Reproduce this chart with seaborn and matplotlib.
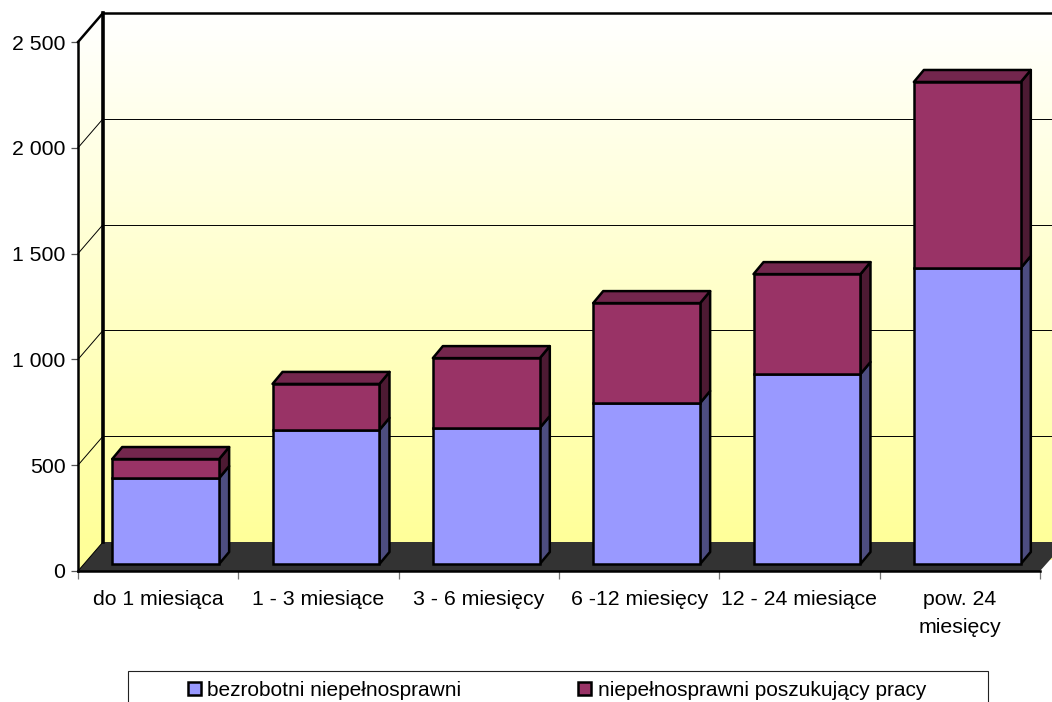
import numpy as np
import pandas as pd
import matplotlib
matplotlib.use("Agg")
import matplotlib.pyplot as plt
import seaborn as sns
from matplotlib.patches import Polygon, Patch, Rectangle
from matplotlib.lines import Line2D
from matplotlib.transforms import Affine2D, IdentityTransform
from matplotlib.colors import LinearSegmentedColormap

categories = ["do 1 miesiąca", "1 - 3 miesiące", "3 - 6 miesięcy", "6 -12 miesięcy",
              "12 - 24 miesiące", "pow. 24\nmiesięcy"]
bezrobotni = [406, 634, 643, 761, 898, 1399]
poszukujacy = [90, 217, 330, 472, 472, 879]
series_names = ["bezrobotni niepełnosprawni", "niepełnosprawni poszukujący pracy"]
y_ticks = [0, 500, 1000, 1500, 2000, 2500]
y_labels = ["0", "500", "1 000", "1 500", "2 000", "2 500"]

W, H = 1052, 702
FONT = 15.3
EDGE = 1.8
sns.set_theme(style="white")
plt.rcParams["font.family"] = ["Liberation Sans", "DejaVu Sans"]

fig = plt.figure(figsize=(W / 100, H / 100), dpi=100, facecolor="white")
ax = fig.add_axes([78 / W, (H - 571) / H, (1040 - 78) / W, (571 - 42) / H])
ax.patch.set_visible(False)

df = pd.DataFrame({"okres": categories, "a": bezrobotni, "b": poszukujacy})
sns.barplot(data=df, x="okres", y="a", color="#9999FF", saturation=1, width=0.667,
            edgecolor="black", linewidth=EDGE, zorder=4, ax=ax)
n_first = len(ax.patches)
sns.barplot(data=df, x="okres", y="b", bottom=df["a"].to_numpy(), color="#993366", saturation=1,
            width=0.667, edgecolor="black", linewidth=EDGE, zorder=4, ax=ax)
ax.set_xlim(-0.5, 5.5)
ax.set_ylim(0, 2500)
ax.set_xlabel("")
ax.set_ylabel("")

def P(px, py):
    """reference pixel (top-left origin) to display coordinates"""
    return (px, H - py)

# shift of the bars from the front plane and their depth, pixels
OX, OY = 7.5, 7
DX, DY = 10, 12
WX, WY = 25, 29
ident = IdentityTransform()
fig.canvas.draw()

# walls
grad = LinearSegmentedColormap.from_list("w", ["#FFFFFF", "#FFFF99"])
inv = ax.transData.inverted()
(x0, y0), (x1, y1) = inv.transform([P(78, 571), P(1052, 13)])
im = ax.imshow(np.clip(np.linspace(0, 1.05, 256), 0, 1).reshape(-1, 1), cmap=grad, aspect="auto",
               extent=(x0, x1, y0, y1), zorder=0, vmin=0, vmax=1)
clip = Polygon([P(78, 571), P(78, 42), P(103, 13), P(1052, 13), P(1052, 560), P(78, 571)],
               transform=ident)
im.set_clip_box(fig.bbox)
im.set_clip_path(clip)
ax.set_xlim(-0.5, 5.5)
ax.set_ylim(0, 2500)

# floor
ax.add_patch(Polygon([P(78, 571), P(103, 542), P(1052, 542), P(1052, 557.5), P(1040, 571)],
                     closed=True, facecolor="#333333", edgecolor="none",
                     transform=ident, clip_on=False, zorder=1.5))

def seg(a, b, lw, z=2, color="black"):
    ax.add_line(Line2D([a[0], b[0]], [a[1], b[1]], color=color, lw=lw, transform=ident,
                       clip_on=False, zorder=z, solid_capstyle="projecting"))

for v in y_ticks:
    fx, fy = ax.transData.transform((-0.5, v))
    lw = EDGE if v == y_ticks[-1] else 0.7
    seg((fx, fy), (fx + WX, fy + WY), lw)
    if v > 0:
        seg((fx + WX, fy + WY), (W, fy + WY), lw)
fx, fy0 = ax.transData.transform((-0.5, 0))
_, fy1 = ax.transData.transform((-0.5, 2500))
seg((fx + WX, fy0 + WY), (fx + WX, fy1 + WY), 2.6, z=2.2)

# bars: move into the floor and add depth
blue_side, red_side, red_top = "#4D4D80", "#4D1A33", "#73264D"
shift = Affine2D().translate(OX, OY)
bars = [p for p in ax.patches if p.get_zorder() == 4]
for i, b in enumerate(bars):
    xa, ya = ax.transData.transform((b.get_x(), b.get_y()))
    xb, yb = ax.transData.transform((b.get_x() + b.get_width(), b.get_y() + b.get_height()))
    xa, xb, ya, yb = xa + OX, xb + OX, ya + OY, yb + OY
    b.set_transform(ax.transData + shift)
    b.set_clip_on(False)
    first = i < n_first
    ax.add_patch(Polygon([(xb, ya), (xb + DX, ya + DY), (xb + DX, yb + DY), (xb, yb)],
                         closed=True, facecolor=blue_side if first else red_side,
                         edgecolor="black", lw=EDGE, transform=ident, clip_on=False, zorder=3,
                         joinstyle="round"))
    if not first:
        ax.add_patch(Polygon([(xa, yb), (xa + DX, yb + DY), (xb + DX, yb + DY), (xb, yb)],
                             closed=True, facecolor=red_top, edgecolor="black", lw=EDGE,
                             transform=ident, clip_on=False, zorder=3, joinstyle="round"))

# axes
for s in ("top", "right"):
    ax.spines[s].set_visible(False)
for s in ("left", "bottom"):
    ax.spines[s].set_color("black")
    ax.spines[s].set_linewidth(EDGE)
    ax.spines[s].set_zorder(2.6)
ax.set_yticks(y_ticks, y_labels)
ax.set_xticks(range(len(categories)), categories, linespacing=1.6)
ax.set_xticks(np.arange(-0.5, 6, 1), minor=True)
ax.tick_params(axis="y", which="major", left=True, length=5, width=0.9, color="#555555",
               labelsize=FONT, labelcolor="black", pad=4)
ax.tick_params(axis="x", which="major", bottom=False, length=0, labelsize=FONT,
               labelcolor="black", pad=13.5)
ax.tick_params(axis="x", which="minor", bottom=True, length=5.5, width=0.9, color="#777777")

# legend
fig.add_artist(Rectangle((128 / W, -0.05), (988 - 128) / W, 0.05 + (H - 670.5) / H,
                         transform=fig.transFigure, facecolor="white", edgecolor="#222222", lw=0.8))
handles = [Patch(facecolor="#9999FF", edgecolor="black", lw=EDGE),
           Patch(facecolor="#993366", edgecolor="black", lw=EDGE)]
leg = fig.legend(handles, series_names, ncols=2, loc="center left",
                 bbox_to_anchor=(188 / W, (H - 690) / H), frameon=False, fontsize=15.0,
                 handlelength=0.6, handleheight=0.6, handletextpad=0.32, columnspacing=5.62,
                 borderpad=0, borderaxespad=0, labelcolor="black")
leg.set_zorder(5)

fig.savefig("out.png", dpi=100, facecolor="white")
